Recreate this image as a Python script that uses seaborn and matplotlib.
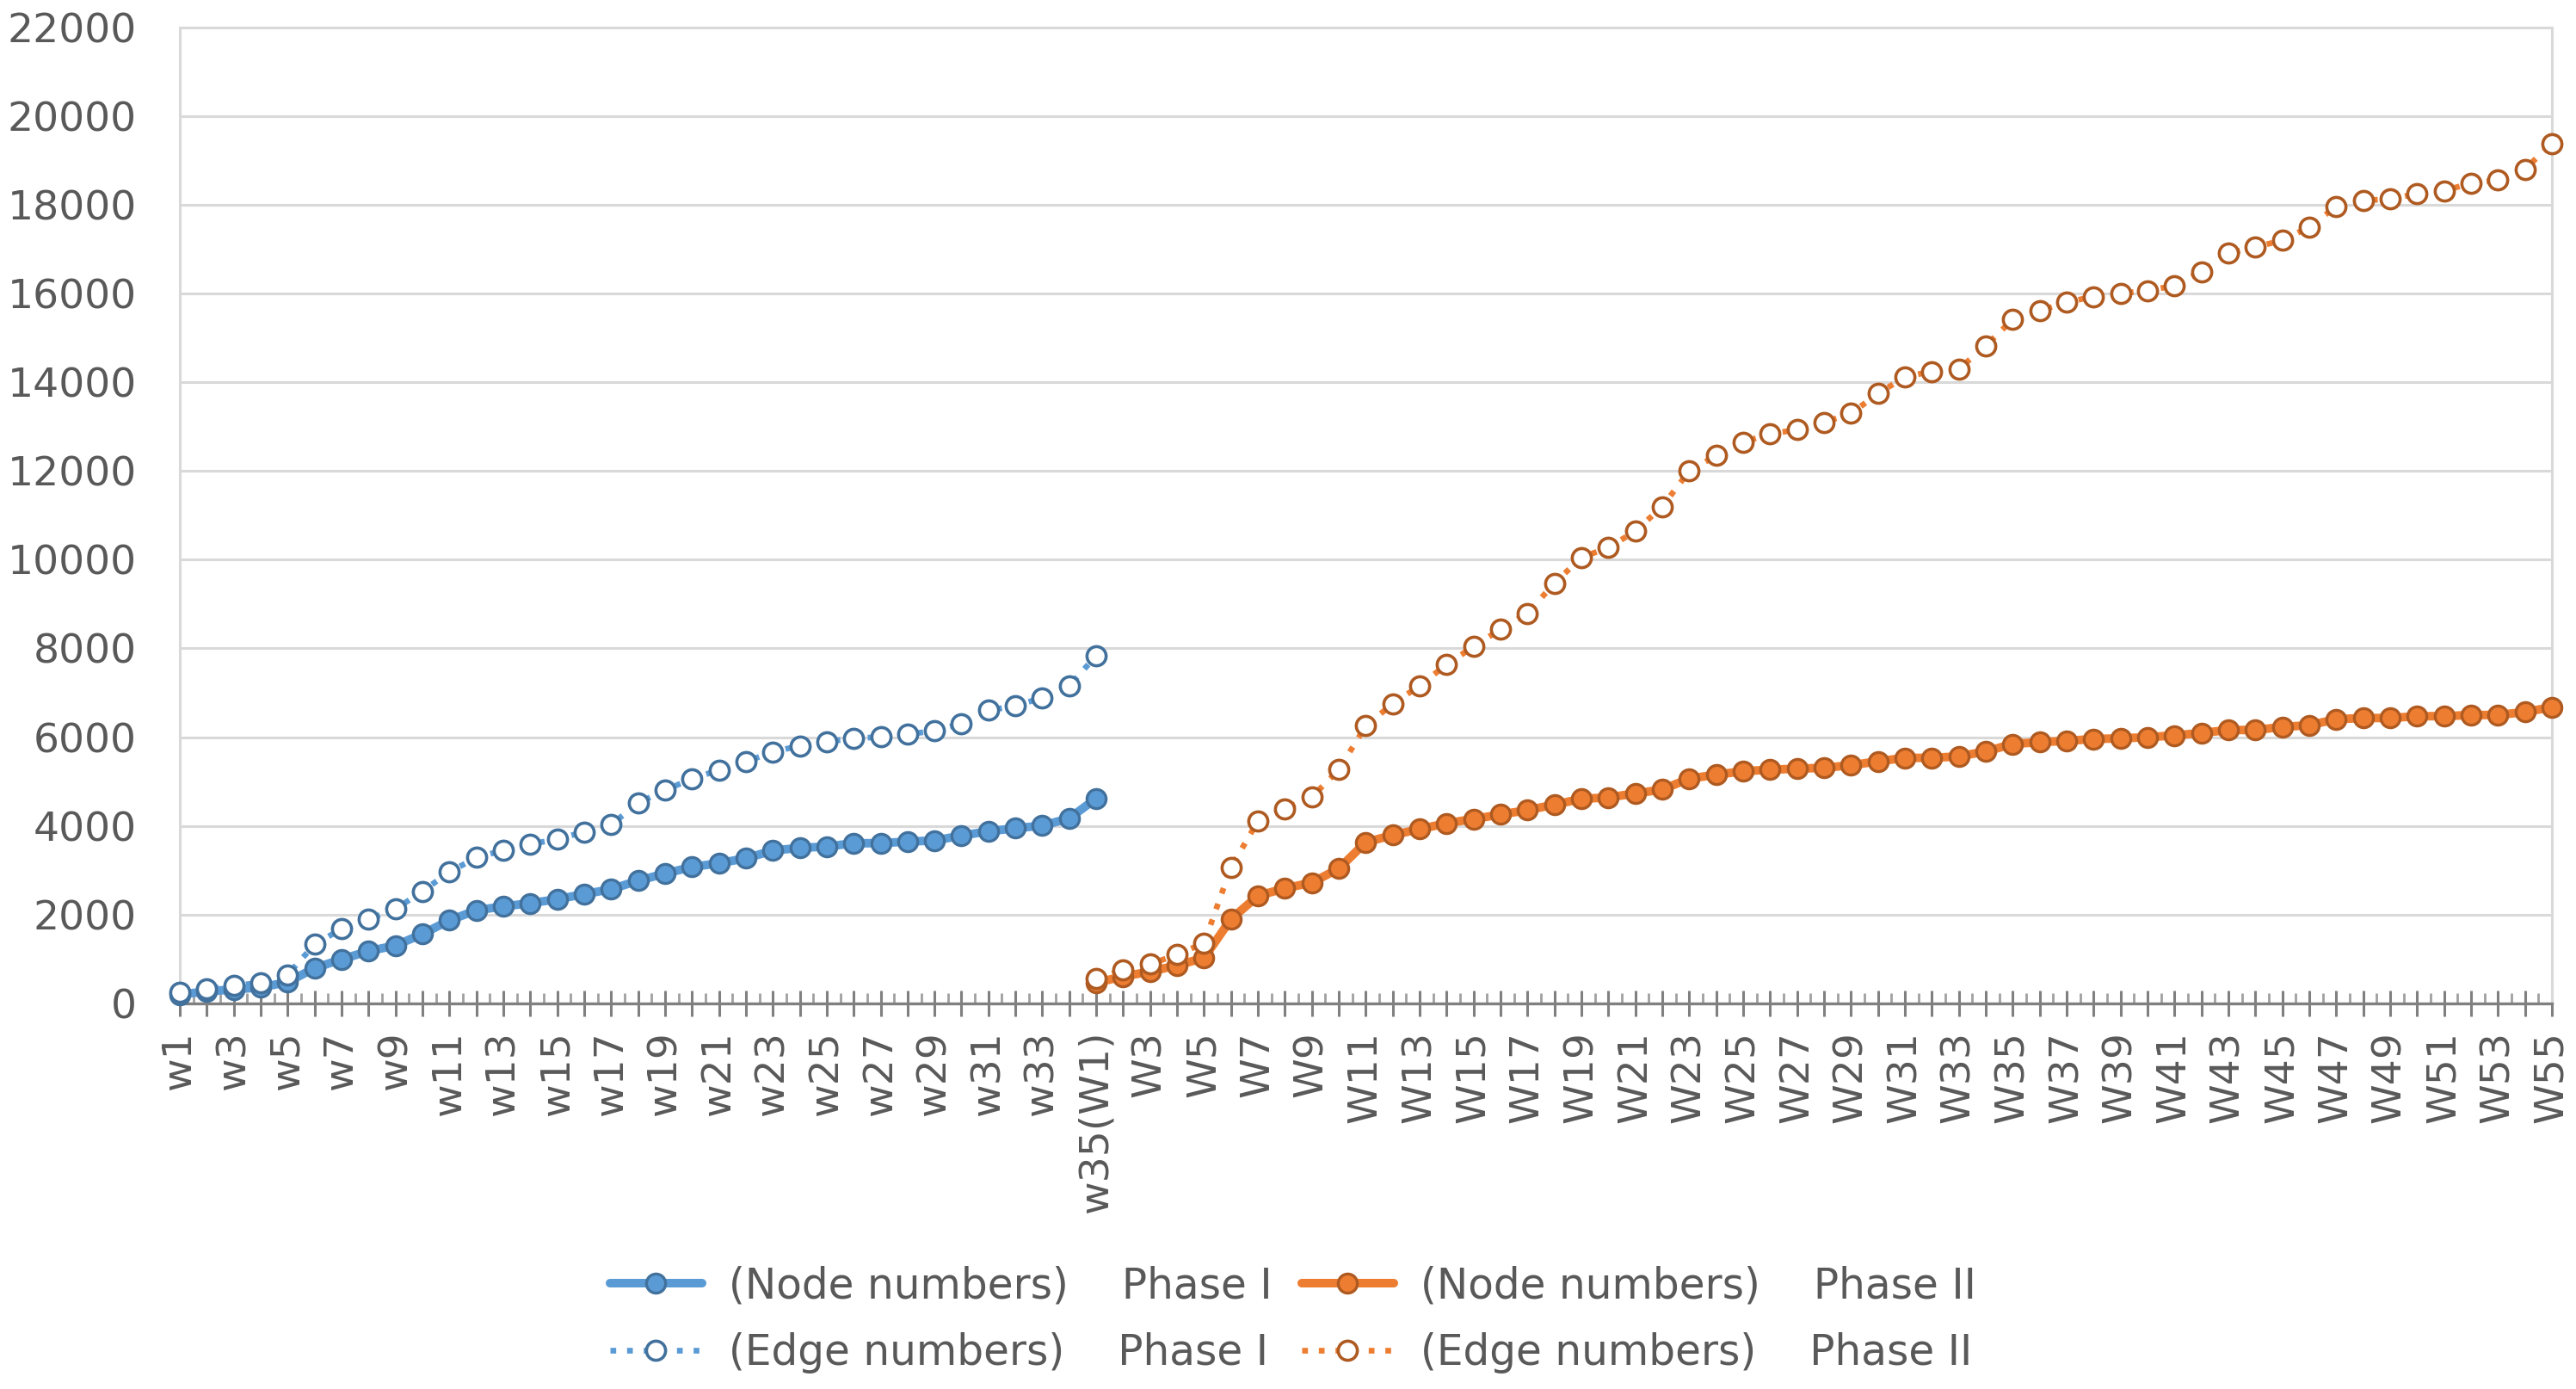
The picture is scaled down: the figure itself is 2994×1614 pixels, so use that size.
import numpy as np
import pandas as pd
import matplotlib
matplotlib.use("Agg")
import matplotlib.pyplot as plt
from matplotlib.ticker import FixedLocator, FixedFormatter
import seaborn as sns

# ---------------- data ----------------
phase1_weeks = [f"w{i}" for i in range(1, 35)] + ["w35(W1)"]
phase2_weeks = [f"W{i}" for i in range(2, 56)]
categories = phase1_weeks + phase2_weeks

phase1_nodes = [200, 270, 316, 360, 480, 795, 995, 1177, 1306, 1563,
                1872, 2098, 2187, 2258, 2349, 2464, 2573, 2766, 2927, 3075,
                3159, 3270, 3445, 3505, 3535, 3610, 3610, 3648, 3670, 3782,
                3880, 3947, 4007, 4172, 4621]
phase1_edges = [250, 330, 400, 465, 645, 1330, 1679, 1898, 2123, 2528,
                2959, 3287, 3449, 3590, 3700, 3866, 4028, 4510, 4812, 5057,
                5263, 5445, 5670, 5805, 5902, 5970, 6007, 6067, 6142, 6307,
                6606, 6704, 6891, 7153, 7842]
phase2_nodes = [465, 610, 715, 860, 1025, 1900, 2426, 2594, 2723, 3039,
                3633, 3792, 3930, 4059, 4158, 4257, 4356, 4480, 4610, 4643,
                4731, 4821, 5066, 5155, 5233, 5267, 5289, 5311, 5367, 5456,
                5534, 5534, 5567, 5679, 5846, 5890, 5915, 5960, 5973, 6000,
                6040, 6095, 6162, 6162, 6230, 6270, 6405, 6432, 6432, 6473,
                6473, 6500, 6500, 6567, 6675]
phase2_edges = [560, 750, 885, 1100, 1360, 3069, 4109, 4386, 4653, 5267,
                6257, 6752, 7158, 7643, 8039, 8435, 8791, 9472, 10050, 10273,
                10641, 11199, 12000, 12347, 12648, 12838, 12927, 13094, 13295, 13741,
                14120, 14242, 14298, 14822, 15413, 15610, 15800, 15931, 16000, 16067,
                16173, 16493, 16907, 17040, 17200, 17493, 17960, 18097, 18124, 18248,
                18317, 18483, 18552, 18800, 19379]

labels = ["(Node numbers)    Phase I", "(Edge numbers)    Phase I",
          "(Node numbers)    Phase II", "(Edge numbers)    Phase II"]
y_ticks = list(range(0, 22001, 2000))

# ---------------- style ----------------
sns.set_theme(style="white")
plt.rcParams["font.family"] = ["DejaVu Sans"]

BLUE, BLUE_DK = "#5B9BD5", "#41719C"
ORANGE, ORANGE_DK = "#ED7D31", "#AE5A21"
TXT = "#595959"
GRID = "#D9D9D9"

fig = plt.figure(figsize=(14.97, 8.07), dpi=200)
ax = fig.add_axes([0.0698, 0.2776, 0.9208, 0.7028])

x1 = np.arange(len(phase1_nodes))
start2 = len(phase1_weeks) - 1
x2 = np.arange(start2, start2 + len(phase2_nodes))

df1 = pd.DataFrame({"x": x1, "nodes": phase1_nodes, "edges": phase1_edges})
df2 = pd.DataFrame({"x": x2, "nodes": phase2_nodes, "edges": phase2_edges})

solid_kw = dict(lw=3.6, marker="o", ms=8, mew=1.2, clip_on=False)
dot_kw = dict(lw=2.4, linestyle=(0, (1.0, 1.9)), marker="o", ms=8, mew=1.3,
              mfc="white", clip_on=False)

sns.lineplot(data=df1, x="x", y="nodes", ax=ax, color=BLUE, mfc=BLUE,
             mec=BLUE_DK, label=labels[0], zorder=3, **solid_kw)
sns.lineplot(data=df1, x="x", y="edges", ax=ax, color=BLUE, mec=BLUE_DK,
             label=labels[1], zorder=4, **dot_kw)
sns.lineplot(data=df2, x="x", y="nodes", ax=ax, color=ORANGE, mfc=ORANGE,
             mec=ORANGE_DK, label=labels[2], zorder=3, **solid_kw)
sns.lineplot(data=df2, x="x", y="edges", ax=ax, color=ORANGE, mec=ORANGE_DK,
             label=labels[3], zorder=4, **dot_kw)

# ---------------- axes ----------------
ax.set_xlim(0, len(categories) - 1)
ax.set_ylim(0, 22000)
ax.set_yticks(y_ticks)
ax.set_yticklabels([str(v) for v in y_ticks])

ax.xaxis.set_major_locator(FixedLocator(np.arange(0, len(categories), 1)))
ax.xaxis.set_major_formatter(FixedFormatter(
    [categories[i] if i % 2 == 0 else "" for i in range(len(categories))]))
ax.xaxis.set_minor_locator(FixedLocator(np.arange(0.5, len(categories) - 1, 1.0)))

ax.tick_params(axis="x", which="major", direction="inout", length=11, width=1.1,
               color="#808080", labelsize=17, labelcolor=TXT, pad=6, rotation=90,
               bottom=True)
ax.tick_params(axis="x", which="minor", direction="in", length=4.5, width=1.0,
               color="#A0A0A0", bottom=True)
ax.tick_params(axis="y", which="both", length=0, labelsize=17, labelcolor=TXT, pad=18)

ax.set_xlabel("")
ax.set_ylabel("")
ax.yaxis.grid(True, color=GRID, lw=1.1)
ax.xaxis.grid(False)
ax.set_axisbelow(True)

for side in ["left", "right", "top"]:
    ax.spines[side].set_color(GRID)
    ax.spines[side].set_linewidth(1.1)
ax.spines["bottom"].set_color("#808080")
ax.spines["bottom"].set_linewidth(1.2)
ax.spines["bottom"].set_zorder(2.5)

handles, labs = ax.get_legend_handles_labels()
if ax.get_legend() is not None:
    ax.get_legend().remove()
leg = fig.legend(handles, labs, loc="center", bbox_to_anchor=(0.502, 0.05),
                 ncol=2, frameon=False, fontsize=17.5, handlelength=2.2,
                 handletextpad=0.65, columnspacing=0.7, labelspacing=0.62)
for t in leg.get_texts():
    t.set_color(TXT)

fig.savefig("out.png", dpi=200, facecolor="white")
